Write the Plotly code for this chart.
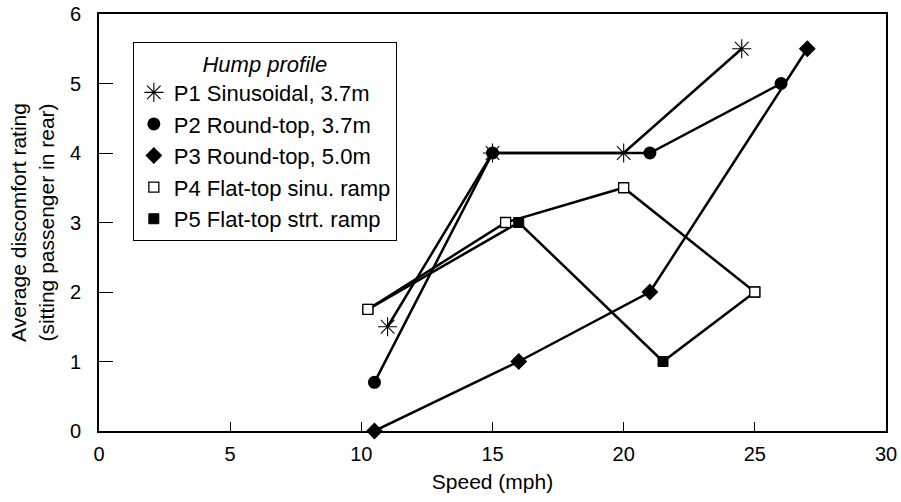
import plotly.graph_objects as go

# Data
p1_x = [11.0, 15.0, 20.0, 24.5]
p1_y = [1.5, 4.0, 4.0, 5.5]
p2_x = [10.5, 15.0, 21.0, 26.0]
p2_y = [0.7, 4.0, 4.0, 5.0]
p3_x = [10.5, 16.0, 21.0, 27.0]
p3_y = [0.0, 1.0, 2.0, 5.5]
p4_x = [10.25, 15.5, 20.0, 25.0]
p4_y = [1.75, 3.0, 3.5, 2.0]
p5_x = [10.25, 16.0, 21.5, 25.0]
p5_y = [1.75, 3.0, 1.0, 2.0]

names = ["P1 Sinusoidal, 3.7m", "P2 Round-top, 3.7m", "P3 Round-top, 5.0m",
         "P4 Flat-top sinu. ramp", "P5 Flat-top strt. ramp"]

FONT = "Liberation Sans, Arial, sans-serif"
fig = go.Figure()

markers = [
    dict(symbol="asterisk-open", size=16, color="black", line=dict(color="black", width=1.1)),
    dict(symbol="circle", size=13, color="black", line=dict(color="black", width=0)),
    dict(symbol="diamond", size=13, color="black", line=dict(color="black", width=0)),
    dict(symbol="square", size=10, color="white", line=dict(color="black", width=1.3)),
    dict(symbol="square", size=10, color="black", line=dict(color="black", width=1)),
]
series = [(p1_x, p1_y), (p2_x, p2_y), (p3_x, p3_y), (p4_x, p4_y), (p5_x, p5_y)]

# draw order: P5 before P4 so open squares appear on top
for i in [0, 1, 2, 4, 3]:
    xs, ys = series[i]
    fig.add_trace(go.Scatter(x=xs, y=ys, mode="lines+markers",
                             line=dict(color="black", width=2.5),
                             marker=markers[i], showlegend=False,
                             cliponaxis=False))

for i in range(5):
    fig.add_trace(go.Scatter(x=[None], y=[None], mode="markers", name=names[i],
                             marker=markers[i], showlegend=True))

fig.update_layout(
    width=901, height=502,
    margin=dict(l=99, r=15, t=14, b=71),
    paper_bgcolor="white", plot_bgcolor="white",
    font=dict(family=FONT, size=21, color="black"),
    xaxis=dict(range=[0, 30], tickvals=[0, 5, 10, 15, 20, 25, 30],
               showline=True, mirror=True, linecolor="black", linewidth=2,
               ticks="inside", ticklen=9, tickwidth=1, tickcolor="black",
               showgrid=False, zeroline=False, automargin=False,
               ticklabelstandoff=4,
               title=dict(text="Speed (mph)", font=dict(size=21), standoff=10),
               tickfont=dict(size=20)),
    yaxis=dict(range=[0, 6], tickvals=[0, 1, 2, 3, 4, 5, 6],
               showline=True, mirror=True, linecolor="black", linewidth=2,
               ticks="inside", ticklen=14, tickwidth=1, tickcolor="black",
               showgrid=False, zeroline=False, automargin=False,
               ticklabelstandoff=12,
               title=dict(text="Average discomfort rating<br>(sitting passenger in rear)",
                          font=dict(size=21), standoff=10),
               tickfont=dict(size=20)),
    legend=dict(x=0.043, y=0.933, xanchor="left", yanchor="top",
                bgcolor="white", bordercolor="black", borderwidth=1,
                font=dict(size=22), itemwidth=30, tracegroupgap=0,
                title=dict(text="<i>Hump profile</i>", side="top center", font=dict(size=22))),
)

fig.write_html("out.html")
